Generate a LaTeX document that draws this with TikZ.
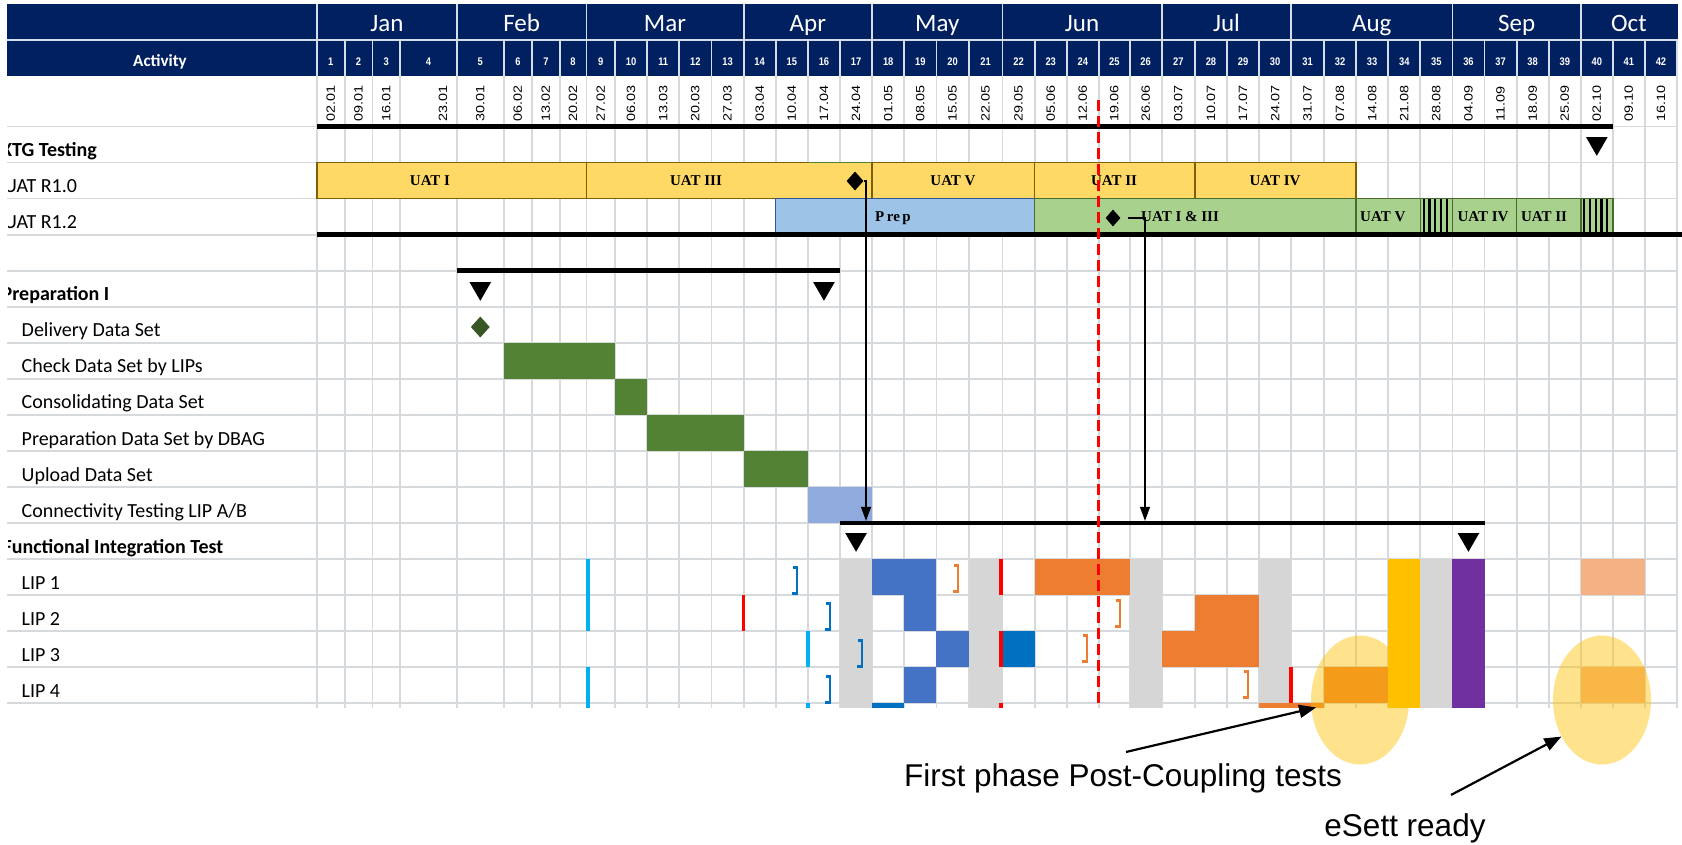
\documentclass[tikz,border=0pt]{standalone}
\usepackage{fontspec}
\setmainfont{Carlito}
\newfontfamily\arialf{Liberation Sans}
\newfontfamily\timesf{Liberation Serif}
\usepackage{tikz}
\usetikzlibrary{arrows.meta,calc,shapes.geometric}
\definecolor{cNavy}{HTML}{002060}
\definecolor{cHdrLine}{HTML}{D5DCEA}
\definecolor{cGrid}{HTML}{D6DADC}
\definecolor{cGold}{HTML}{FFD966}
\definecolor{cGoldLine}{HTML}{7F6000}
\definecolor{cPrep}{HTML}{9DC3E6}
\definecolor{cPrepLine}{HTML}{2F5597}
\definecolor{cLGreen}{HTML}{A9D18E}
\definecolor{cLGreenLine}{HTML}{4A6B2E}
\definecolor{cDGreen}{HTML}{548235}
\definecolor{cMile}{HTML}{375623}
\definecolor{cConn}{HTML}{8FAADC}
\definecolor{cBlue}{HTML}{4472C4}
\definecolor{cDBlue}{HTML}{0070C0}
\definecolor{cSky}{HTML}{00B0F0}
\definecolor{cOrange}{HTML}{ED7D31}
\definecolor{cLOrange}{HTML}{F4B183}
\definecolor{cYellow}{HTML}{FFC000}
\definecolor{cGray}{HTML}{D6D6D6}
\definecolor{cPurple}{HTML}{7030A0}
\definecolor{cRed}{HTML}{FF0000}

\begin{document}
\begin{tikzpicture}[
  x=1pt,y=-1pt,
  grd/.style={draw=cGrid,line width=1.8pt},
  hdr/.style={draw=cHdrLine,line width=1.8pt},
  mon/.style={anchor=base,text=white,inner sep=0pt,font=\fontsize{25}{30}\selectfont},
  wk/.style={anchor=base,xscale=0.85,text=white,inner sep=0pt,font=\arialf\bfseries\fontsize{11}{13}\selectfont},
  dt/.style={rotate=90,xscale=1.2,anchor=west,inner sep=0pt,font=\arialf\fontsize{12}{14}\selectfont},
  lbl/.style={anchor=base west,inner sep=0pt,font=\fontsize{20}{24}\selectfont},
  lblb/.style={anchor=base west,inner sep=0pt,font=\fontsize{20}{24}\selectfont\bfseries},
  bar/.style={anchor=base,inner sep=0pt,font=\timesf\bfseries\fontsize{15}{18}\selectfont},
  uat/.style={draw=cGoldLine,fill=cGold,line width=1.6pt},
  rel/.style={draw=cLGreenLine,fill=cLGreen,line width=1.4pt},
  prp/.style={draw=cPrepLine,fill=cPrep,line width=1.4pt},
  sum/.style={line width=4.5pt},
  tri/.style={regular polygon,regular polygon sides=3,shape border rotate=180,fill=black,
              minimum size=25pt,inner sep=0pt},
  dia/.style={diamond,fill=black,inner sep=0pt,minimum width=17pt,minimum height=19pt},
  vbar/.style={line width=3.5pt},
  brk/.style={line width=2.2pt},
  stripe/.style={line width=2.2pt},
  ar/.style={-{Triangle[length=14pt,width=10pt]},line width=1.2pt},
  ann/.style={-{Triangle[length=17pt,width=13pt]},line width=2.2pt},
  hl/.style={ellipse,fill=cYellow,fill opacity=0.45,minimum width=98pt,minimum height=129pt,inner sep=0pt},
  note/.style={anchor=base,inner sep=0pt,font=\arialf\fontsize{31.5}{36}\selectfont}
]
\useasboundingbox (0,0) rectangle (1682,845);
\clip (0,0) rectangle (1682,845);
\fill[white] (0,0) rectangle (1682,845);

% ---- columns and rows
\foreach \x [count=\i from 0] in {317,344.6,372.5,400,457,503.6,532.1,559.6,586.4,615,647.1,679.3,
    711.4,743.6,775.7,807.9,840,872.1,904.3,936.4,968.6,1002.5,1034.6,1066.8,1098.9,1129.6,1161.7,
    1194.9,1227,1259.1,1291.2,1324,1356.1,1388.2,1420.3,1452.4,1484.5,1516.6,1548.7,1580.8,1612.8,
    1644.9,1677}
  \coordinate (c\i) at (\x,0);
\foreach \k in {0,...,16}
  \coordinate (r\k) at (0,{126.5+36.05*\k});

% ---- header
\fill[cNavy] (7,4) rectangle (1678,76);
\draw[hdr] (7,40) -- (1678,40);
\foreach \i in {0,4,8,13,17,21,26,30,35,39}
  \draw[hdr] (c\i |- 0,4) -- (c\i |- 0,40);
\foreach \i in {0,...,42}
  \draw[hdr] (c\i |- 0,40) -- (c\i |- 0,76);
\node[text=white,inner sep=0pt,font=\fontsize{17}{20}\selectfont\bfseries] (act) at (160,62) {Activity};
\foreach \m/\a/\b in {Jan/0/4,Feb/4/8,Mar/8/13,Apr/13/17,May/17/21,Jun/21/26,Jul/26/30,
    Aug/30/35,Sep/35/39,Oct/39/42}
  \node[mon] (m\m) at ($(c\a)!0.5!(c\b)+(0,32)$) {\m};

% ---- grid
\foreach \i in {0,...,42}
  \draw[grd] (c\i |- 0,76) -- (c\i |- 0,708);
\foreach \k in {0,...,16}
  \draw[grd] (r\k -| 7,0) -- (r\k -| 1677,0);

% ---- weeks and dates
\foreach \d [count=\k] in {02.01,09.01,16.01,23.01,30.01,06.02,13.02,20.02,27.02,06.03,13.03,
    20.03,27.03,03.04,10.04,17.04,24.04,01.05,08.05,15.05,22.05,29.05,05.06,12.06,19.06,26.06,
    03.07,10.07,17.07,24.07,31.07,07.08,14.08,21.08,28.08,04.09,11.09,18.09,25.09,02.10,09.10,16.10}{
  \pgfmathtruncatemacro\p{\k-1}
  \pgfmathsetmacro\dx{(\k==4)*14.5}
  \node[wk] (w\k) at ($(c\p)!0.5!(c\k)+(0,65.7)$) {\k};
  \node[dt] (d\k) at ($(c\p)!0.5!(c\k)+(\dx,122)$) {\d};
}

% ---- row labels
\begin{scope}
\clip (8,0) rectangle (317,710);
\node[lblb] (l0)  at (1,156.6) {XTG Testing};
\node[lbl]  (l1)  at (4,192.6) {UAT R1.0};
\node[lbl]  (l2)  at (4,228.7) {UAT R1.2};
\node[lblb] (l4)  at (1.5,300.8) {Preparation I};
\node[lbl]  (l5)  at (21.5,336.8) {Delivery Data Set};
\node[lbl]  (l6)  at (21.5,372.9) {Check Data Set by LIPs};
\node[lbl]  (l7)  at (21.5,408.9) {Consolidating Data Set};
\node[lbl]  (l8)  at (21.5,445) {Preparation Data Set by DBAG};
\node[lbl]  (l9)  at (21.5,481) {Upload Data Set};
\node[lbl]  (l10) at (21.5,517.1) {Connectivity Testing LIP A/B};
\node[lblb] (l11) at (2.5,553.1) {Functional Integration Test};
\node[lbl]  (l12) at (21.5,589.2) {LIP 1};
\node[lbl]  (l13) at (21.5,625.2) {LIP 2};
\node[lbl]  (l14) at (21.5,661.3) {LIP 3};
\node[lbl]  (l15) at (21.5,697.3) {LIP 4};
\end{scope}

% ---- UAT R1.0
\draw[uat] (c0 |- r1) rectangle (c8 |- r2);
\draw[uat] (c8 |- r1) rectangle (c17 |- r2);
\draw[uat] (c17 |- r1) rectangle (c22 |- r2);
\draw[uat] (c22 |- r1) rectangle (c27 |- r2);
\draw[uat] (c27 |- r1) rectangle (c32 |- r2);
\draw[cDGreen,line width=1.6pt] (c15 |- r1) -- (c17 |- r1);
\node[bar] (u1) at (430,185.6) {UAT I};
\node[bar] (u3) at (696,185.6) {UAT III};
\node[bar] (u5) at (953,185.6) {UAT V};
\node[bar] (u2) at (1114,185.6) {UAT II};
\node[bar] (u4) at (1275,185.6) {UAT IV};

% ---- UAT R1.2
\draw[prp] (c14 |- r2) rectangle (c22 |- r3);
\draw[rel] (c22 |- r2) rectangle (c32 |- r3);
\draw[rel] (c32 |- r2) rectangle (c34 |- r3);
\draw[rel] (c34 |- r2) rectangle (c35 |- r3);
\draw[rel] (c35 |- r2) rectangle (c37 |- r3);
\draw[rel] (c37 |- r2) rectangle (c39 |- r3);
\draw[rel] (c39 |- r2) rectangle (c40 |- r3);
\foreach \s in {1420.3,1580.8}
  \foreach \i in {0,...,4}
    \draw[stripe] ({\s+3.5+5.7*\i},199.5) -- ({\s+3.5+5.7*\i},234);
\node[bar] (pp) at (893,221.6) {P\,re\,p};
\node[bar,anchor=base west] (v13) at (1141,221.6) {UAT I \& III};
\node[bar,anchor=base west] (v5) at (1360,221.6) {UAT V};
\node[bar] (v4) at (1483,221.6) {UAT IV};
\node[bar] (v2) at (1544,221.6) {UAT II};

% ---- preparation
\fill[cDGreen] (c5 |- r6) rectangle (c9 |- r7);
\fill[cDGreen] (c9 |- r7) rectangle (c10 |- r8);
\fill[cDGreen] (c10 |- r8) rectangle (c13 |- r9);
\fill[cDGreen] (c13 |- r9) rectangle (c15 |- r10);
\fill[cConn] (c15 |- r10) rectangle (c17 |- r11);

% ---- functional integration test
\foreach \a/\b/\c in {16/17/cGray,20/21/cGray,25/26/cGray,29/30/cGray,34/35/cGray,
    33/34/cYellow,35/36/cPurple}
  \fill[\c] (c\a |- r12) rectangle (c\b |- 0,708);
\foreach \a/\b/\t/\u/\c in {17/19/12/13/cBlue,22/25/12/13/cOrange,39/41/12/13/cLOrange,
    18/19/13/14/cBlue,27/29/13/14/cOrange,
    19/20/14/15/cBlue,21/22/14/15/cDBlue,26/29/14/15/cOrange,
    18/19/15/16/cBlue,31/33/15/16/cOrange,39/41/15/16/cLOrange}
  \fill[\c] (c\a |- r\t) rectangle (c\b |- r\u);
\foreach \a/\b/\c in {17/18/cDBlue,29/31/cOrange}
  \fill[\c] (c\a |- r16) rectangle (c\b |- 0,708);
\foreach \x/\p/\q/\c in {588/559.1/631.2/cSky,588/667.3/708/cSky,808/631.2/667.3/cSky,
    808/703.3/708/cSky,743.6/595.2/631.2/cRed,1001/559.1/595.2/cRed,1001/631.2/667.3/cRed,
    1001/703.3/708/cRed,1291/667.3/703.3/cRed}
  \draw[vbar,draw=\c] (\x,\p) -- (\x,\q);
\foreach \x/\y/\c in {797/580.5/cDBlue,830/616.5/cDBlue,862/653.5/cDBlue,830/689.5/cDBlue,
    958/578.5/cOrange,1120/613.5/cOrange,1087/648.5/cOrange,1248/684.5/cOrange}
  \draw[brk,draw=\c] (\x-4,\y-13) -- (\x,\y-13) -- (\x,\y+13) -- (\x-5,\y+13);

% ---- summary bars
\draw[sum] (c0 |- r0) -- (c40 |- r0);
\draw[sum] (c0 |- r3) -- (1682,0 |- r3);
\draw[sum] (c4 |- r4) -- (c16 |- r4);
\coordinate (fitL) at (c16 |- r11);
\coordinate (fitR) at (c36 |- r11);
\draw[sum] (fitL) -- (fitR);

% ---- milestones
\node[tri] (mXTG) at ($(c39)!0.5!(c40)+(0,143.3)$) {};
\node[tri] (mPrepA) at ($(c4)!0.5!(c5)+(0,288.3)$) {};
\node[tri] (mPrepB) at ($(c15)!0.5!(c16)+(0,288.3)$) {};
\node[tri] (mFitA) at ($(c16)!0.5!(c17)+(0,539.3)$) {};
\node[tri] (mFitB) at ($(c35)!0.5!(c36)+(0,539.3)$) {};
\node[dia,fill=cMile,minimum width=19pt,minimum height=21pt] (dDel) at ($(c4)!0.5!(c5)+(0,327)$) {};
\node[dia] (dUat) at (855,181) {};
\node[dia,minimum width=15pt,minimum height=17pt] (dRel) at (1113,218) {};

% ---- today
\draw[cRed,line width=3pt,dash pattern=on 11pt off 5pt] (1098,100) -- (1098,708);

% ---- dependencies
\draw[ar,shorten >=2.2pt] (dUat.east) -| ([xshift=26pt]fitL);
\draw[ar,shorten <=7.5pt,shorten >=2.2pt] (dRel.east) -| ([xshift=305pt]fitL);

% ---- highlights
\node[hl] (e1) at (1360,700) {};
\node[hl] (e2) at (1602,700) {};
\node[note] (t1) at (1123,786) {First phase Post-Coupling tests};
\node[note] (t2) at (1405,836) {eSett ready};
\draw[ann,shorten >=-5pt] ([xshift=3pt,yshift=11pt]t1.north) -- (e1.190);
\draw[ann] ([xshift=46pt,yshift=18pt]t2.north) -- (e2.222);
\end{tikzpicture}
\end{document}
